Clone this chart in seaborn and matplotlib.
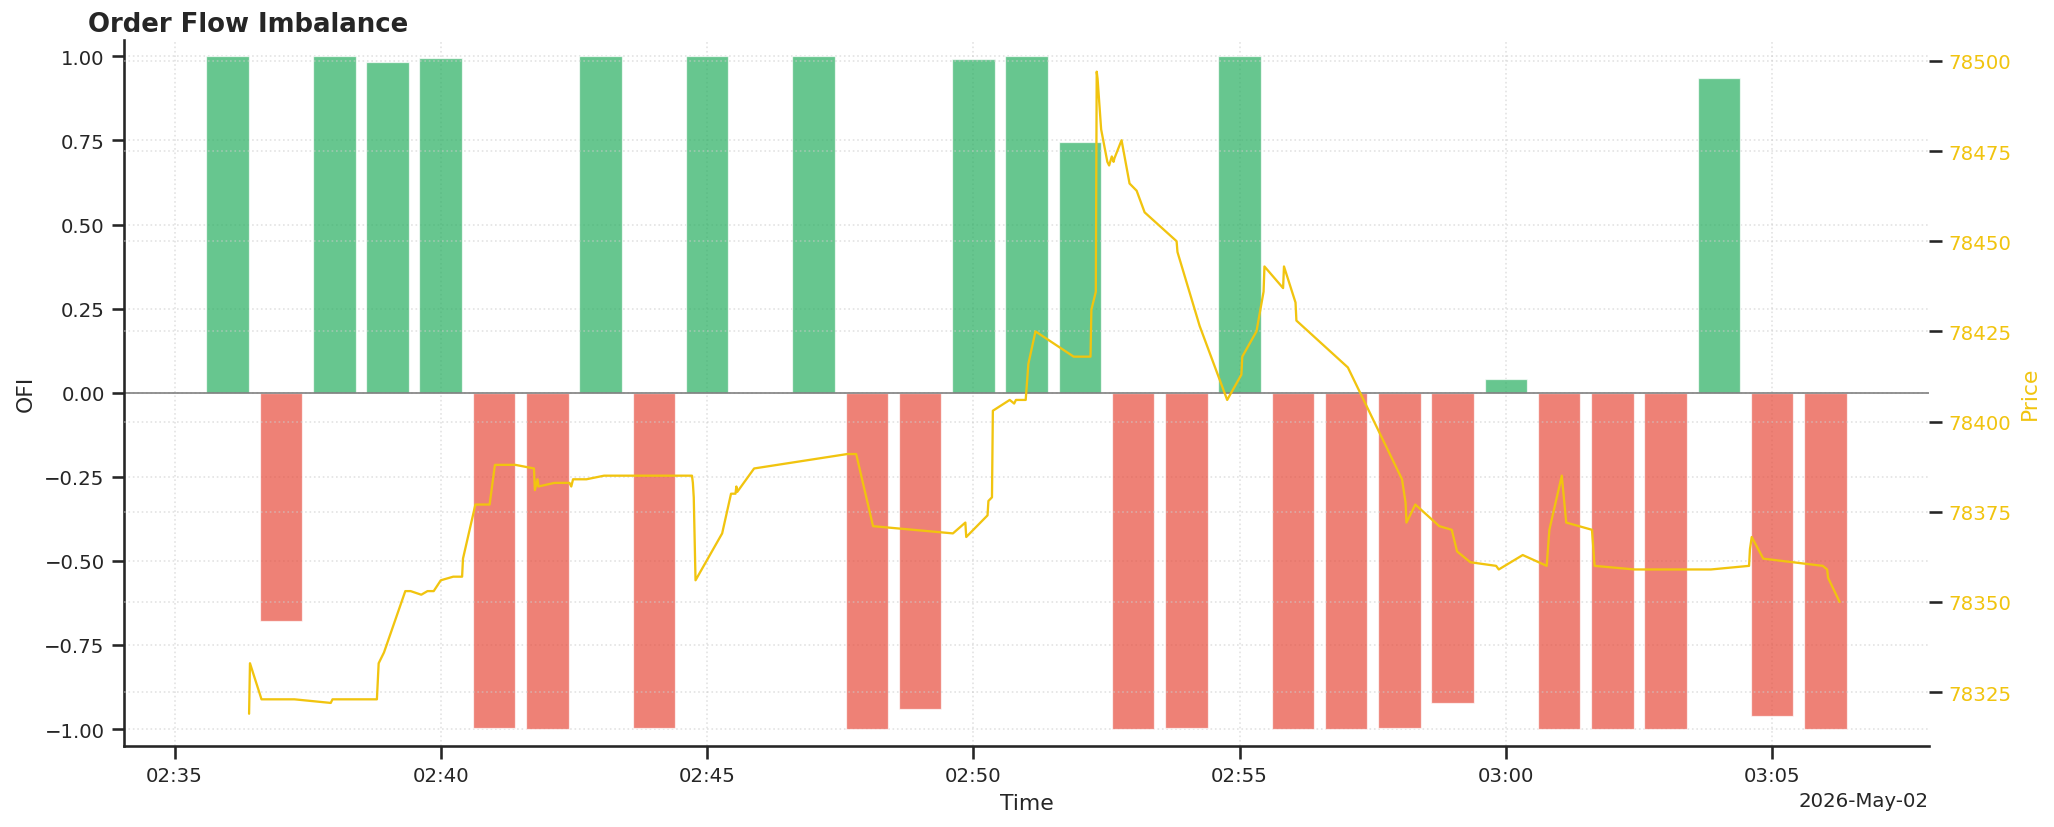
import pandas as pd
import matplotlib
matplotlib.use("Agg")
import matplotlib.pyplot as plt
import matplotlib.dates as mdates
import seaborn as sns

DAY = "2026-05-02"
GREEN = "#27ae60"
RED = "#e74c3c"
GOLD = "#f1c40f"

# OFI per minute (no reading at 02:46)
bar_minutes = ["02:36", "02:37", "02:38", "02:39", "02:40", "02:41", "02:42", "02:43",
               "02:44", "02:45", "02:47", "02:48", "02:49", "02:50", "02:51", "02:52",
               "02:53", "02:54", "02:55", "02:56", "02:57", "02:58", "02:59", "03:00",
               "03:01", "03:02", "03:03", "03:04", "03:05", "03:06"]
ofi_values = [1.00, -0.68, 1.00, 0.983, 0.996, -0.997, -1.00, 1.00,
              -0.997, 1.00, 1.00, -1.00, -0.94, 0.992, 1.00, 0.745,
              -1.00, -0.997, 1.00, -1.00, -1.00, -0.997, -0.923, 0.041,
              -1.00, -1.00, -1.00, 0.937, -0.961, -1.00]

# price ticks
price_times = ["02:36:24", "02:36:25", "02:36:38", "02:37:15", "02:37:56", "02:37:58",
               "02:38:48", "02:38:50", "02:38:56", "02:39:20", "02:39:26", "02:39:38",
               "02:39:45", "02:39:52", "02:40:00", "02:40:14", "02:40:24", "02:40:25",
               "02:40:39", "02:40:55", "02:41:01", "02:41:24", "02:41:45", "02:41:46",
               "02:41:49", "02:41:50", "02:42:08", "02:42:25", "02:42:27", "02:42:29",
               "02:42:44", "02:43:04", "02:44:43", "02:44:44", "02:44:45", "02:44:47",
               "02:45:17", "02:45:27", "02:45:32", "02:45:33", "02:45:34", "02:45:53",
               "02:47:38", "02:47:48", "02:48:07", "02:49:37", "02:49:51", "02:49:52",
               "02:50:16", "02:50:17", "02:50:21", "02:50:22", "02:50:41", "02:50:46",
               "02:50:48", "02:50:59", "02:51:02", "02:51:10", "02:51:53", "02:52:12",
               "02:52:13", "02:52:18", "02:52:19", "02:52:20", "02:52:24", "02:52:31",
               "02:52:33", "02:52:36", "02:52:38", "02:52:39", "02:52:47", "02:52:56",
               "02:53:04", "02:53:13", "02:53:49", "02:53:50", "02:54:15", "02:54:46",
               "02:55:02", "02:55:03", "02:55:19", "02:55:27", "02:55:28", "02:55:49",
               "02:55:50", "02:56:03", "02:56:04", "02:57:02", "02:58:03", "02:58:07",
               "02:58:08", "02:58:18", "02:58:45", "02:58:59", "02:59:05", "02:59:20",
               "02:59:49", "02:59:52", "03:00:19", "03:00:46", "03:00:49", "03:01:03",
               "03:01:08", "03:01:37", "03:01:40", "03:02:25", "03:02:38", "03:03:51",
               "03:04:34", "03:04:35", "03:04:37", "03:04:50", "03:05:57", "03:06:02",
               "03:06:03", "03:06:16"]
price_values = [78319, 78333, 78323, 78323, 78322, 78323,
                78323, 78333, 78336, 78353, 78353, 78352,
                78353, 78353, 78356, 78357, 78357, 78362,
                78377, 78377, 78388, 78388, 78387, 78381,
                78384, 78382, 78383, 78383, 78382, 78384,
                78384, 78385, 78385, 78383, 78379, 78356,
                78369, 78380, 78380, 78382, 78380.5, 78387,
                78391, 78391, 78371, 78369, 78372, 78368,
                78374, 78378, 78379, 78403, 78406, 78405,
                78406, 78406, 78416, 78425, 78418, 78418,
                78431, 78436, 78497, 78495, 78481, 78472,
                78471, 78473.5, 78472, 78473, 78478, 78466,
                78464, 78458, 78450, 78447, 78426.5, 78406,
                78413, 78418, 78425, 78436, 78443, 78437,
                78443, 78433, 78428, 78415, 78384, 78377.5,
                78372, 78377, 78371, 78370, 78364, 78361,
                78360, 78359, 78363, 78360, 78370, 78385,
                78372, 78370, 78360, 78359, 78359, 78359,
                78360, 78364.6, 78368, 78362, 78360, 78359,
                78356.7, 78350]

bars = pd.DataFrame({
    "time": pd.to_datetime([f"{DAY} {m}" for m in bar_minutes]),
    "ofi": ofi_values,
})
price = pd.DataFrame({
    "time": pd.to_datetime([f"{DAY} {t}" for t in price_times]),
    "price": price_values,
})

sns.set_theme(style="ticks", rc={"xtick.labelsize": 9.5, "ytick.labelsize": 9.5,
                                 "axes.labelsize": 10.5})
plt.rcParams["font.family"] = ["DejaVu Sans"]

fig, ax = plt.subplots(figsize=(2054 / 150, 828 / 150), dpi=150)
fig.subplots_adjust(left=0.0606, right=0.939, top=0.951, bottom=0.098)

colors = [GREEN if v >= 0 else RED for v in bars["ofi"]]
ax.bar(bars["time"], bars["ofi"], width=0.8 / 1440, color=colors, alpha=0.7,
       edgecolor="white", linewidth=0.6)
ax.axhline(0, color="gray", linewidth=0.8)
ax.set_ylim(-1.05, 1.05)
ax.set_yticks([-1.0, -0.75, -0.5, -0.25, 0, 0.25, 0.5, 0.75, 1.0])
ax.grid(True, linestyle=":", color=".8", linewidth=0.8, alpha=0.55)
ax.set_xlabel("Time")
ax.set_ylabel("OFI")
ax.set_title("Order Flow Imbalance", loc="left", x=-0.02, pad=4,
             fontsize=12.5, fontweight="bold")

ax2 = ax.twinx()
sns.lineplot(data=price, x="time", y="price", ax=ax2, color=GOLD, linewidth=1.1,
             estimator=None, sort=False)
ax2.grid(True, axis="y", linestyle=":", color=".8", linewidth=0.8, alpha=0.55)
ax2.set_ylabel("Price", color=GOLD)
ax2.tick_params(axis="y", labelcolor=GOLD)

locator = mdates.AutoDateLocator()
ax.xaxis.set_major_locator(locator)
ax.xaxis.set_major_formatter(mdates.ConciseDateFormatter(locator))

sns.despine(ax=ax)
for side in ["top", "right", "left", "bottom"]:
    ax2.spines[side].set_visible(False)

fig.savefig("out.png", dpi=150)
